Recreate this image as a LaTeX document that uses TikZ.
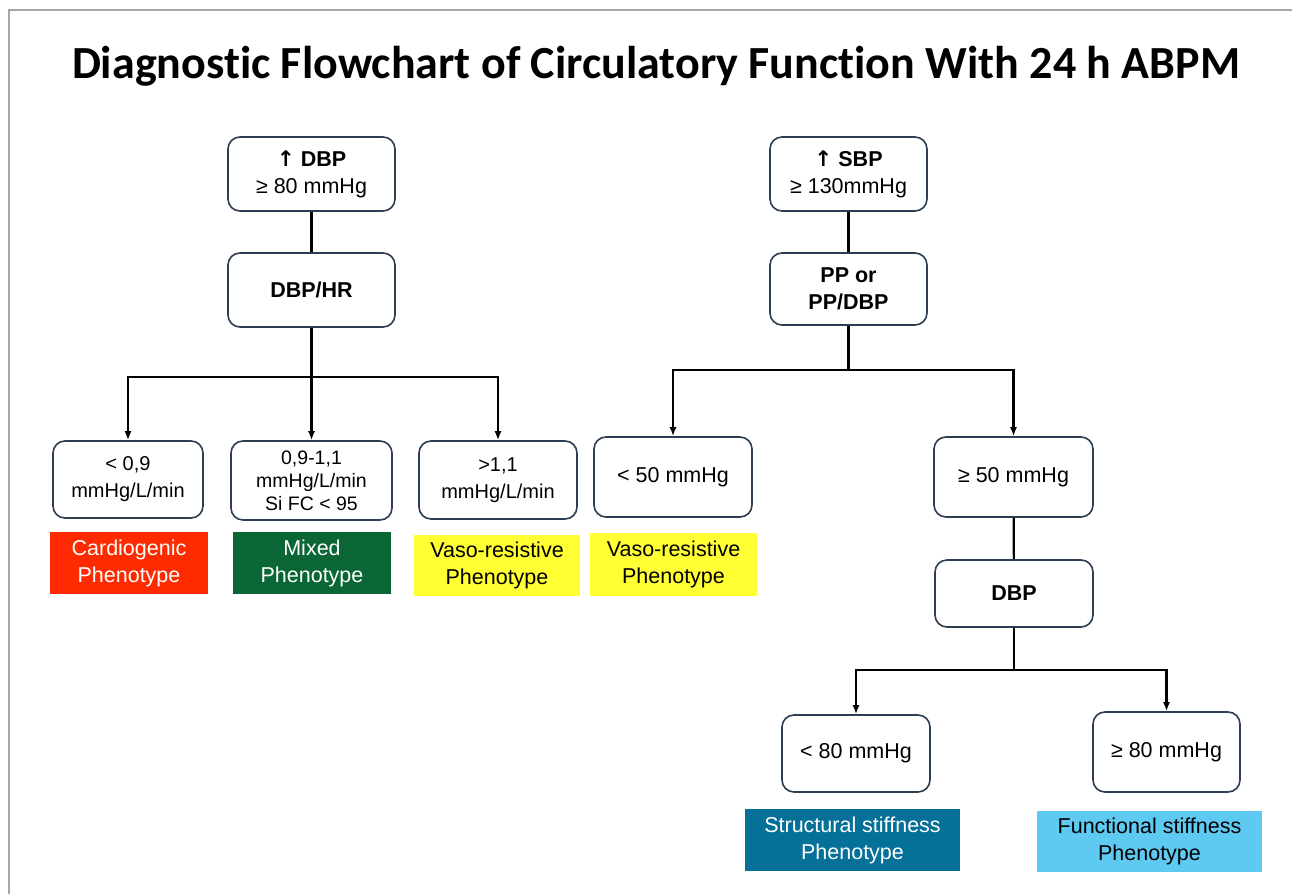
\documentclass[tikz,border=0pt]{standalone}
\usepackage{fontspec}
\setmainfont{Liberation Sans}
\newfontfamily\titlefont[Ligatures=NoCommon]{Carlito}
\newfontfamily\symfont{DejaVu Sans}
\usepackage{tikz}
\usetikzlibrary{arrows.meta,positioning}
\definecolor{myborder}{RGB}{45,62,80}
\definecolor{myred}{RGB}{255,42,0}
\definecolor{mygreen}{RGB}{10,102,52}
\definecolor{myyellow}{RGB}{255,255,51}
\definecolor{myblue}{RGB}{5,112,152}
\definecolor{mylightblue}{RGB}{94,201,241}
\tikzstyle{box}=[draw=myborder,line width=1.6pt,rounded corners=12pt,fill=white,align=center,minimum width=158pt,minimum height=76pt,inner sep=2pt,font=\fontsize{21.5}{27}\selectfont]
\tikzstyle{ratiobox}=[box,font=\fontsize{20}{27}\selectfont]
\tikzstyle{pheno}=[align=center,minimum width=158pt,minimum height=62pt,inner sep=2pt,font=\fontsize{21.5}{27}\selectfont]
\tikzstyle{link}=[line width=2.2pt]
\tikzstyle{arrow}=[link,-{Latex[length=9pt,width=7pt]}]
\newcommand{\uparr}{{\symfont ↑}}

\begin{document}
\begin{tikzpicture}[x=1pt,y=-1pt]
\useasboundingbox (0,0) rectangle (1292,894);
\draw[gray!70,line width=1.5pt] (9,894) -- (9,10) -- (1292,10);
\node (title) at (656,66) {\titlefont\fontsize{46}{52}\selectfont\bfseries Diagnostic Flowchart of Circulatory Function With 24 h ABPM};

% left tree: diastolic
\node [box, minimum width=167pt, minimum height=74pt] (dbp) at (311.5,174) {\textbf{\uparr\ DBP}\\≥ 80 mmHg};
\node [box, minimum width=167pt, minimum height=74pt] (dbphr) at (311.5,290) {\textbf{DBP/HR}};
\node [ratiobox, minimum width=150pt, minimum height=77pt] (lowrat) at (128,479.5) {< 0,9\\mmHg/L/min};
\node [ratiobox, minimum width=161pt, minimum height=79pt, font=\fontsize{19.5}{23}\selectfont] (midrat) at (311.5,480.5) {0,9-1,1\\mmHg/L/min\\Si FC < 95};
\node [ratiobox, minimum width=158pt, minimum height=78pt] (highrat) at (498,480) {>1,1\\mmHg/L/min};
\node [pheno, fill=myred, text=white] (cardio) at (129,563) {Cardiogenic\\Phenotype};
\node [pheno, fill=mygreen, text=white] (mixed) at (312,563) {Mixed\\Phenotype};
\node [pheno, fill=myyellow, minimum width=166pt, minimum height=61pt] (vasol) at (497,565.5) {Vaso-resistive\\Phenotype};

% right tree: systolic
\node [box, minimum width=157pt, minimum height=74pt] (sbp) at (848.5,174) {\textbf{\uparr\ SBP}\\≥ 130mmHg};
\node [box, minimum width=157pt, minimum height=72pt] (pp) at (848.5,289) {\textbf{PP or}\\\textbf{PP/DBP}};
\node [box, minimum width=158pt, minimum height=80pt] (lowpp) at (673,477) {< 50 mmHg};
\node [box, minimum width=159pt, minimum height=80pt] (highpp) at (1013.5,477) {≥ 50 mmHg};
\node [pheno, fill=myyellow, minimum width=167pt, minimum height=63pt] (vasor) at (673.5,564.5) {Vaso-resistive\\Phenotype};
\node [box, minimum width=158pt, minimum height=67pt] (dbpr) at (1014,593.5) {\textbf{DBP}};
\node [box, minimum width=148pt, minimum height=77pt] (lowdbp) at (856,753.5) {< 80 mmHg};
\node [box, minimum width=147pt, minimum height=80pt] (highdbp) at (1166.5,752) {≥ 80 mmHg};
\node [pheno, fill=myblue, text=white, minimum width=215pt] (struct) at (852.5,840) {Structural stiffness\\Phenotype};
\node [pheno, fill=mylightblue, minimum width=225pt, minimum height=61pt] (funct) at (1149.5,841.5) {Functional stiffness\\Phenotype};

\coordinate (lfork) at (311.5,377);
\coordinate (rfork) at (848.5,370);
\coordinate (dfork) at (1014,670);

\draw[link] (dbp) -- (dbphr);
\draw[link] (dbphr) -- (lfork);
\draw[arrow] (lfork) -| (lowrat.north);
\draw[arrow] (lfork) -- (midrat.north);
\draw[arrow] (lfork) -| (highrat.north);

\draw[link] (sbp) -- (pp);
\draw[link] (pp) -- (rfork);
\draw[arrow] (rfork) -| (lowpp.north);
\draw[arrow] (rfork) -| (highpp.north);
\draw[link] (highpp) -- (dbpr);
\draw[link] (dbpr) -- (dfork);
\draw[arrow] (dfork) -| (lowdbp.north);
\draw[arrow] (dfork) -| (highdbp.north);
\end{tikzpicture}
\end{document}
